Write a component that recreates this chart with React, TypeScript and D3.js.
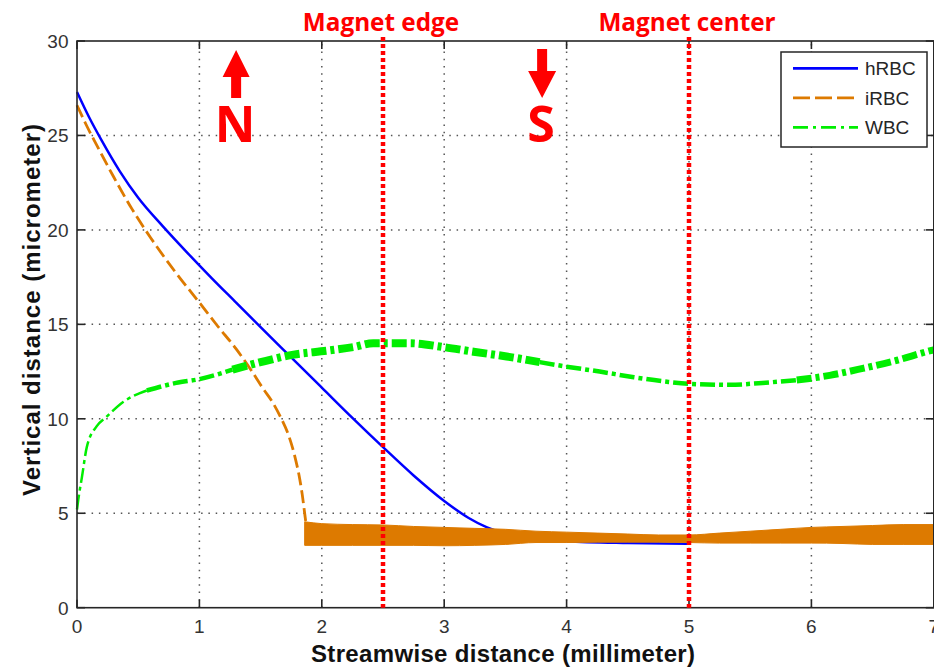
import React from "react";
import * as d3 from "d3";

// Streamwise position (mm) and vertical position (µm) of each cell track
const HRBC_X = [0, 0.1, 0.2, 0.35, 0.5, 0.7, 0.9, 1.1, 1.3, 1.5, 1.75, 2.0, 2.25, 2.5, 2.75, 3.0, 3.2, 3.35, 3.5, 3.7, 4.0, 4.5, 5.0];
const HRBC_Y = [27.3, 25.95, 24.75, 23.1, 21.7, 20.2, 18.8, 17.45, 16.15, 14.85, 13.25, 11.65, 10.05, 8.5, 7.0, 5.65, 4.75, 4.25, 3.92, 3.68, 3.52, 3.42, 3.38];

const IRBC_X = [0, 0.08, 0.16, 0.3, 0.45, 0.6, 0.8, 1.0, 1.15, 1.3, 1.42, 1.52, 1.6, 1.67, 1.73, 1.78, 1.82, 1.84, 1.86, 1.87];
const IRBC_Y = [26.6, 25.5, 24.5, 22.8, 21.1, 19.6, 17.8, 16.15, 14.9, 13.7, 12.6, 11.6, 10.85, 10.0, 9.1, 8.0, 6.8, 6.0, 5.0, 4.5];

// Settled iRBC track: the cell jitters between a lower and an upper bound
const IRBC_BAND_X = [1.86, 2.0, 2.25, 2.5, 2.75, 3.0, 3.25, 3.5, 3.75, 4.0, 4.25, 4.5, 4.75, 5.0, 5.25, 5.5, 5.75, 6.0, 6.25, 6.5, 6.75, 7.0];
const IRBC_BAND_HI = [4.55, 4.45, 4.4, 4.38, 4.3, 4.25, 4.2, 4.15, 4.05, 4.0, 3.95, 3.9, 3.85, 3.85, 3.95, 4.05, 4.15, 4.25, 4.3, 4.35, 4.4, 4.4];
const IRBC_BAND_LO = [3.3, 3.3, 3.3, 3.3, 3.3, 3.28, 3.3, 3.35, 3.45, 3.45, 3.47, 3.47, 3.47, 3.45, 3.42, 3.42, 3.42, 3.42, 3.4, 3.35, 3.35, 3.35];

const WBC_X = [0, 0.01, 0.04, 0.08, 0.16, 0.24, 0.38, 0.57, 0.81, 1.0, 1.27, 1.5, 1.77, 2.04, 2.26, 2.42, 2.72, 2.99, 3.24, 3.51, 3.78, 4.0, 4.27, 4.55, 4.82, 5.03, 5.33, 5.6, 5.88, 6.15, 6.42, 6.7, 6.94, 7.0];
const WBC_Y = [5.2, 5.7, 6.9, 8.5, 9.6, 10.1, 10.9, 11.5, 11.9, 12.1, 12.6, 13.0, 13.4, 13.6, 13.8, 14.0, 14.0, 13.8, 13.55, 13.3, 13.0, 12.76, 12.5, 12.2, 11.96, 11.84, 11.8, 11.9, 12.05, 12.3, 12.67, 13.1, 13.55, 13.65];
// Track thickness (px) for stretches of the WBC path, by index range
const WBC_SPANS = [
  { from: 0, to: 7, width: 2.5 },
  { from: 7, to: 10, width: 4.5 },
  { from: 10, to: 20, width: 8 },
  { from: 20, to: 28, width: 4.5 },
  { from: 28, to: 33, width: 7 },
];

const X_TICKS = [0, 1, 2, 3, 4, 5, 6, 7];
const Y_TICKS = [0, 5, 10, 15, 20, 25, 30];
const GRID_X = [1, 2, 3, 4, 5, 6];
const GRID_Y = [5, 10, 15, 20, 25];

const MAGNET_MARKS = [
  { x: 2.5, label: "Magnet edge" },
  { x: 5, label: "Magnet center" },
];
const POLES = [
  { x: 1.3, label: "N", dir: "up" },
  { x: 3.8, label: "S", dir: "down" },
];

const LEGEND = [
  { name: "hRBC", color: "#0000ff", dash: "none" },
  { name: "iRBC", color: "#dd7a00", dash: "17,5" },
  { name: "WBC", color: "#00ee00", dash: "15,5,3,5" },
];

const W = 934;
const H = 670;
const LEFT = 77;
const RIGHT = 933.8;
const TOP = 41;
const BOTTOM = 607.7;

export default function App() {
  const x = d3.scaleLinear().domain([0, 7]).range([LEFT, RIGHT]);
  const y = d3.scaleLinear().domain([0, 30]).range([BOTTOM, TOP]);

  const line = d3
    .line<[number, number]>()
    .x((d) => x(d[0]))
    .y((d) => y(d[1]))
    .curve(d3.curveMonotoneX);

  const hrbc = HRBC_X.map((v, i) => [v, HRBC_Y[i]] as [number, number]);
  const irbc = IRBC_X.map((v, i) => [v, IRBC_Y[i]] as [number, number]);
  const wbc = WBC_X.map((v, i) => [v, WBC_Y[i]] as [number, number]);

  const band = d3
    .area<number>()
    .x((_, i) => x(IRBC_BAND_X[i]))
    .y0((_, i) => y(IRBC_BAND_LO[i]))
    .y1((_, i) => y(IRBC_BAND_HI[i]))
    .curve(d3.curveMonotoneX);

  const axisColor = "#262626";
  const tickLen = 8;

  return (
    <svg
      width={W}
      height={H}
      style={{ position: "fixed", left: 0, top: 0, background: "#fff" }}
      fontFamily="Arial, 'Liberation Sans', sans-serif"
    >
      <rect x={0} y={0} width={W} height={H} fill="#fff" />

      {/* dotted grid */}
      <g stroke="#555" strokeWidth={1.5} strokeDasharray="1.5,5.8">
        {GRID_X.map((t) => (
          <line key={"gx" + t} x1={x(t)} x2={x(t)} y1={BOTTOM} y2={TOP} />
        ))}
        {GRID_Y.map((t) => (
          <line key={"gy" + t} x1={LEFT} x2={RIGHT} y1={y(t)} y2={y(t)} />
        ))}
      </g>

      {/* data */}
      <path d={line(hrbc) || ""} fill="none" stroke="#0000ff" strokeWidth={2.5} />
      <path d={line(irbc) || ""} fill="none" stroke="#dd7a00" strokeWidth={2.8} strokeDasharray="13,5" />
      <path d={band(IRBC_BAND_X) || ""} fill="#dd7a00" stroke="#dd7a00" strokeWidth={1} />
      {WBC_SPANS.map((s, i) => (
        <path
          key={"w" + i}
          d={line(wbc.slice(s.from, s.to + 1)) || ""}
          fill="none"
          stroke="#00ee00"
          strokeWidth={s.width}
          strokeDasharray="15,4,4,4"
        />
      ))}

      {/* axes box */}
      <g stroke={axisColor} strokeWidth={1.6} fill="none">
        <rect x={LEFT} y={TOP} width={RIGHT - LEFT} height={BOTTOM - TOP} />
        {X_TICKS.map((t) => (
          <g key={"xt" + t}>
            <line x1={x(t)} x2={x(t)} y1={BOTTOM} y2={BOTTOM - tickLen} />
            <line x1={x(t)} x2={x(t)} y1={TOP} y2={TOP + tickLen} />
          </g>
        ))}
        {Y_TICKS.map((t) => (
          <g key={"yt" + t}>
            <line x1={LEFT} x2={LEFT + tickLen} y1={y(t)} y2={y(t)} />
            <line x1={RIGHT} x2={RIGHT - tickLen} y1={y(t)} y2={y(t)} />
          </g>
        ))}
      </g>

      {/* tick labels */}
      <g fill="#333" fontSize={19}>
        {X_TICKS.map((t) => (
          <text key={"xl" + t} x={x(t)} y={633} textAnchor="middle">
            {t}
          </text>
        ))}
        {Y_TICKS.map((t) => (
          <text key={"yl" + t} x={68.5} y={y(t) + 7} textAnchor="end">
            {t}
          </text>
        ))}
      </g>

      {/* axis titles */}
      <text
        x={503}
        y={662}
        textAnchor="middle"
        fontWeight="bold"
        fontSize={24}
        textLength={384}
        fill="#111"
      >
        Streamwise distance (millimeter)
      </text>
      <text
        transform={`translate(40,310) rotate(-90)`}
        textAnchor="middle"
        fontWeight="bold"
        fontSize={24}
        textLength={372}
        fill="#111"
      >
        Vertical distance (micrometer)
      </text>

      {/* magnet position markers */}
      {MAGNET_MARKS.map((m) => (
        <g key={m.label}>
          <line
            x1={x(m.x)}
            x2={x(m.x)}
            y1={37}
            y2={BOTTOM}
            stroke="#ff0000"
            strokeWidth={4.5}
            strokeDasharray="4,3"
          />
          <text
            x={x(m.x) - 2}
            y={31}
            textAnchor="middle"
            fontFamily="'Open Sans', sans-serif"
            fontWeight="bold"
            fontSize={24.3}
            fill="#ff0000"
          >
            {m.label}
          </text>
        </g>
      ))}

      {/* pole arrows */}
      {POLES.map((p) => {
        const cx = x(p.x);
        const pts =
          p.dir === "up"
            ? [
                [cx, 50],
                [cx + 13.5, 77],
                [cx + 5, 77],
                [cx + 5, 98],
                [cx - 5, 98],
                [cx - 5, 77],
                [cx - 13.5, 77],
              ]
            : [
                [cx - 5, 49],
                [cx + 5, 49],
                [cx + 5, 71],
                [cx + 14, 71],
                [cx, 98],
                [cx - 14, 71],
                [cx - 5, 71],
              ];
        return (
          <g key={p.label}>
            <polygon points={pts.map((q) => q.join(",")).join(" ")} fill="#ff0000" />
            <text
              x={cx - 1}
              y={142}
              textAnchor="middle"
              fontFamily="'Open Sans', sans-serif"
              fontWeight="bold"
              fontSize={50}
              fill="#ff0000"
            >
              {p.label}
            </text>
          </g>
        );
      })}

      {/* legend */}
      <g>
        <rect x={781} y={52} width={146} height={95} fill="#fff" stroke={axisColor} strokeWidth={1.5} />
        {LEGEND.map((l, i) => {
          const ly = 68.3 + i * 29.5;
          return (
            <g key={l.name}>
              <line
                x1={793}
                x2={858}
                y1={ly}
                y2={ly}
                stroke={l.color}
                strokeWidth={2.8}
                strokeDasharray={l.dash}
              />
              <text x={865} y={ly + 7} fontSize={19} fill="#262626">
                {l.name}
              </text>
            </g>
          );
        })}
      </g>
    </svg>
  );
}
